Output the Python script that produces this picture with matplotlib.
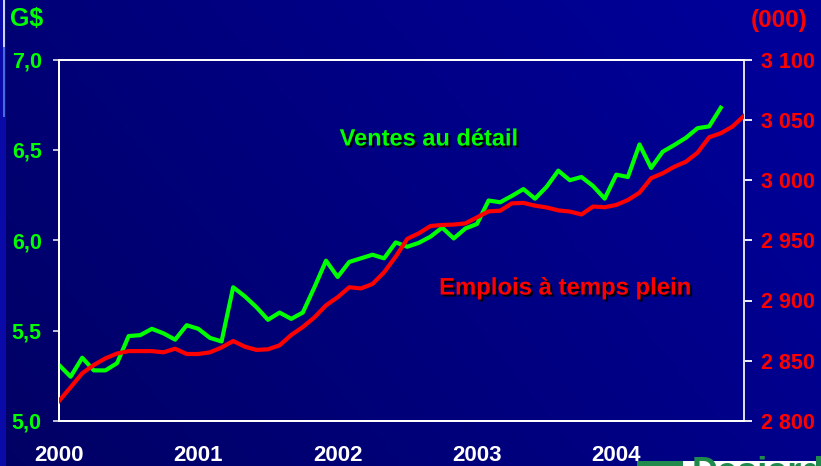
import matplotlib
matplotlib.use('Agg')
import matplotlib.pyplot as plt
import matplotlib.patheffects as pe
from matplotlib.patches import Rectangle
import numpy as np

plt.rcParams['font.family'] = ['Liberation Sans', 'DejaVu Sans']
plt.rcParams['font.weight'] = 'bold'

# mois depuis janvier 2000
year_labels = ['2000', '2001', '2002', '2003', '2004']
year_pos = [0, 12, 24, 36, 48]

# ventes au détail, G$ (jan 2000 - oct 2004)
ventes = [5.31, 5.245, 5.35, 5.28, 5.28, 5.32, 5.47, 5.475, 5.51, 5.485,
          5.45, 5.53, 5.51, 5.46, 5.44, 5.74, 5.69, 5.63, 5.56, 5.60,
          5.565, 5.60, 5.74, 5.887, 5.797, 5.88, 5.90, 5.92, 5.90, 5.988,
          5.964, 5.986, 6.02, 6.07, 6.01, 6.065, 6.09, 6.22, 6.21, 6.245,
          6.283, 6.23, 6.296, 6.385, 6.332, 6.35, 6.30, 6.23, 6.363, 6.35,
          6.53, 6.40, 6.49, 6.527, 6.567, 6.62, 6.63, 6.733]

# emplois à temps plein, milliers (jan 2000 - déc 2004)
emplois = [2816.6, 2828, 2839.6, 2846.5, 2852, 2856, 2858, 2858, 2858, 2857,
           2860, 2855.6, 2855.6, 2857, 2861, 2866.4, 2861.7, 2859, 2859.5, 2862.8,
           2871.4, 2878, 2886, 2896, 2902.7, 2911, 2910, 2913.7, 2923.4, 2936.4,
           2951.2, 2955.8, 2961.8, 2962.7, 2963, 2964, 2969, 2974, 2974.5, 2980.6,
           2981, 2978.7, 2977.2, 2974.8, 2973.8, 2971.4, 2978, 2977.4, 2979.3, 2983.4,
           2989.5, 3001.5, 3005.6, 3011, 3015.2, 3022.7, 3035.5, 3038.8, 3044.3, 3053.2]

left_ticks = [5.0, 5.5, 6.0, 6.5, 7.0]
left_labels = ['5,0', '5,5', '6,0', '6,5', '7,0']
right_ticks = [2800, 2850, 2900, 2950, 3000, 3050, 3100]
right_labels = ['2 800', '2 850', '2 900', '2 950', '3 000', '3 050', '3 100']

GREEN = '#00ff00'
RED = '#ff0000'
fs = 15.5

fig = plt.figure(figsize=(8.21, 4.66), dpi=100)

# fond dégradé bleu marine
bg = fig.add_axes([0, 0, 1, 1], zorder=-10)
gx = np.linspace(0, 1, 200)
gy = np.linspace(0, 1, 120)
GX, GY = np.meshgrid(gx, gy)
t = np.clip(0.75 * GX + 0.35 * GY, 0, 1)
img = np.zeros((120, 200, 3))
img[..., 2] = (0x64 + t * (0x98 - 0x64)) / 255.0
bg.imshow(img, aspect='auto', extent=[0, 1, 0, 1], origin='lower')
bg.add_patch(Rectangle((0, 0), 6 / 821, 1, color='#0a0aa8', lw=0))
bg.add_patch(Rectangle((3 / 821, 0.75), 2 / 821, 0.25, color='#4a6ae0', lw=0))
bg.add_patch(Rectangle((3 / 821, 0.9), 2 / 821, 0.1, color='#c8d4ff', lw=0))
# logo coupé en bas à droite
bg.add_patch(Rectangle((637 / 821, 0), 184 / 821, 5 / 466, color='white', lw=0))
bg.add_patch(Rectangle((637 / 821, 0), 46 / 821, 5 / 466, color='#1f8a4c', lw=0))
bg.text(692 / 821, 1 - 456 / 466, 'Desjardins', color='#1f8a4c', fontsize=26,
        ha='left', va='top', clip_on=True)
bg.set_xlim(0, 1)
bg.set_ylim(0, 1)
bg.axis('off')

ax = fig.add_axes([59 / 821, 1 - 421 / 466, (744 - 59) / 821, (421 - 59.5) / 466])
ax.patch.set_alpha(0)
ax2 = ax.twinx()
ax2.patch.set_alpha(0)

ax.plot(np.arange(len(ventes)), ventes, color=GREEN, lw=3, zorder=3)
ax2.plot(np.arange(len(emplois)), emplois, color=RED, lw=3, zorder=3)

ax.set_xlim(0, 59)
ax.set_ylim(5.0, 7.0)
ax2.set_ylim(2800, 3100)

ax.set_yticks(left_ticks)
ax.set_yticklabels(left_labels)
ax2.set_yticks(right_ticks)
ax2.set_yticklabels(right_labels)
ax.set_xticks(year_pos)
ax.set_xticklabels(year_labels)

ax.tick_params(axis='y', colors='#d0d0e0', length=4.5, width=1.3, pad=8,
               labelsize=fs, labelcolor=GREEN)
ax.tick_params(axis='x', length=0, pad=17, labelsize=fs + 0.5, labelcolor='white')
ax2.tick_params(axis='y', colors='white', length=6, width=1.3, pad=6.5,
                labelsize=fs, labelcolor=RED)
for lab in ax.get_yticklabels() + ax.get_xticklabels() + ax2.get_yticklabels():
    lab.set_fontweight('bold')

for a in (ax, ax2):
    for s in a.spines.values():
        s.set_color('white')
        s.set_linewidth(1.3)
ax2.spines['right'].set_color('#d8d8e8')

shadow = [pe.withSimplePatchShadow(offset=(1.5, -1.5), shadow_rgbFace='black', alpha=0.9)]
fig.text(429 / 821, 1 - 139 / 466, 'Ventes au détail', color=GREEN, fontsize=17,
         fontweight='bold', ha='center', va='center', path_effects=shadow)
fig.text(565 / 821, 1 - 288 / 466, 'Emplois à temps plein', color=RED, fontsize=17.2,
         fontweight='bold', ha='center', va='center', path_effects=shadow)

fig.text(26.5 / 821, 1 - 19 / 466, 'G$', color=GREEN, fontsize=18,
         fontweight='bold', ha='center', va='center')
fig.text(779.5 / 821, 1 - 20 / 466, '(000)', color=RED, fontsize=17.5,
         fontweight='bold', ha='center', va='center')

fig.savefig('out.png', dpi=100)
